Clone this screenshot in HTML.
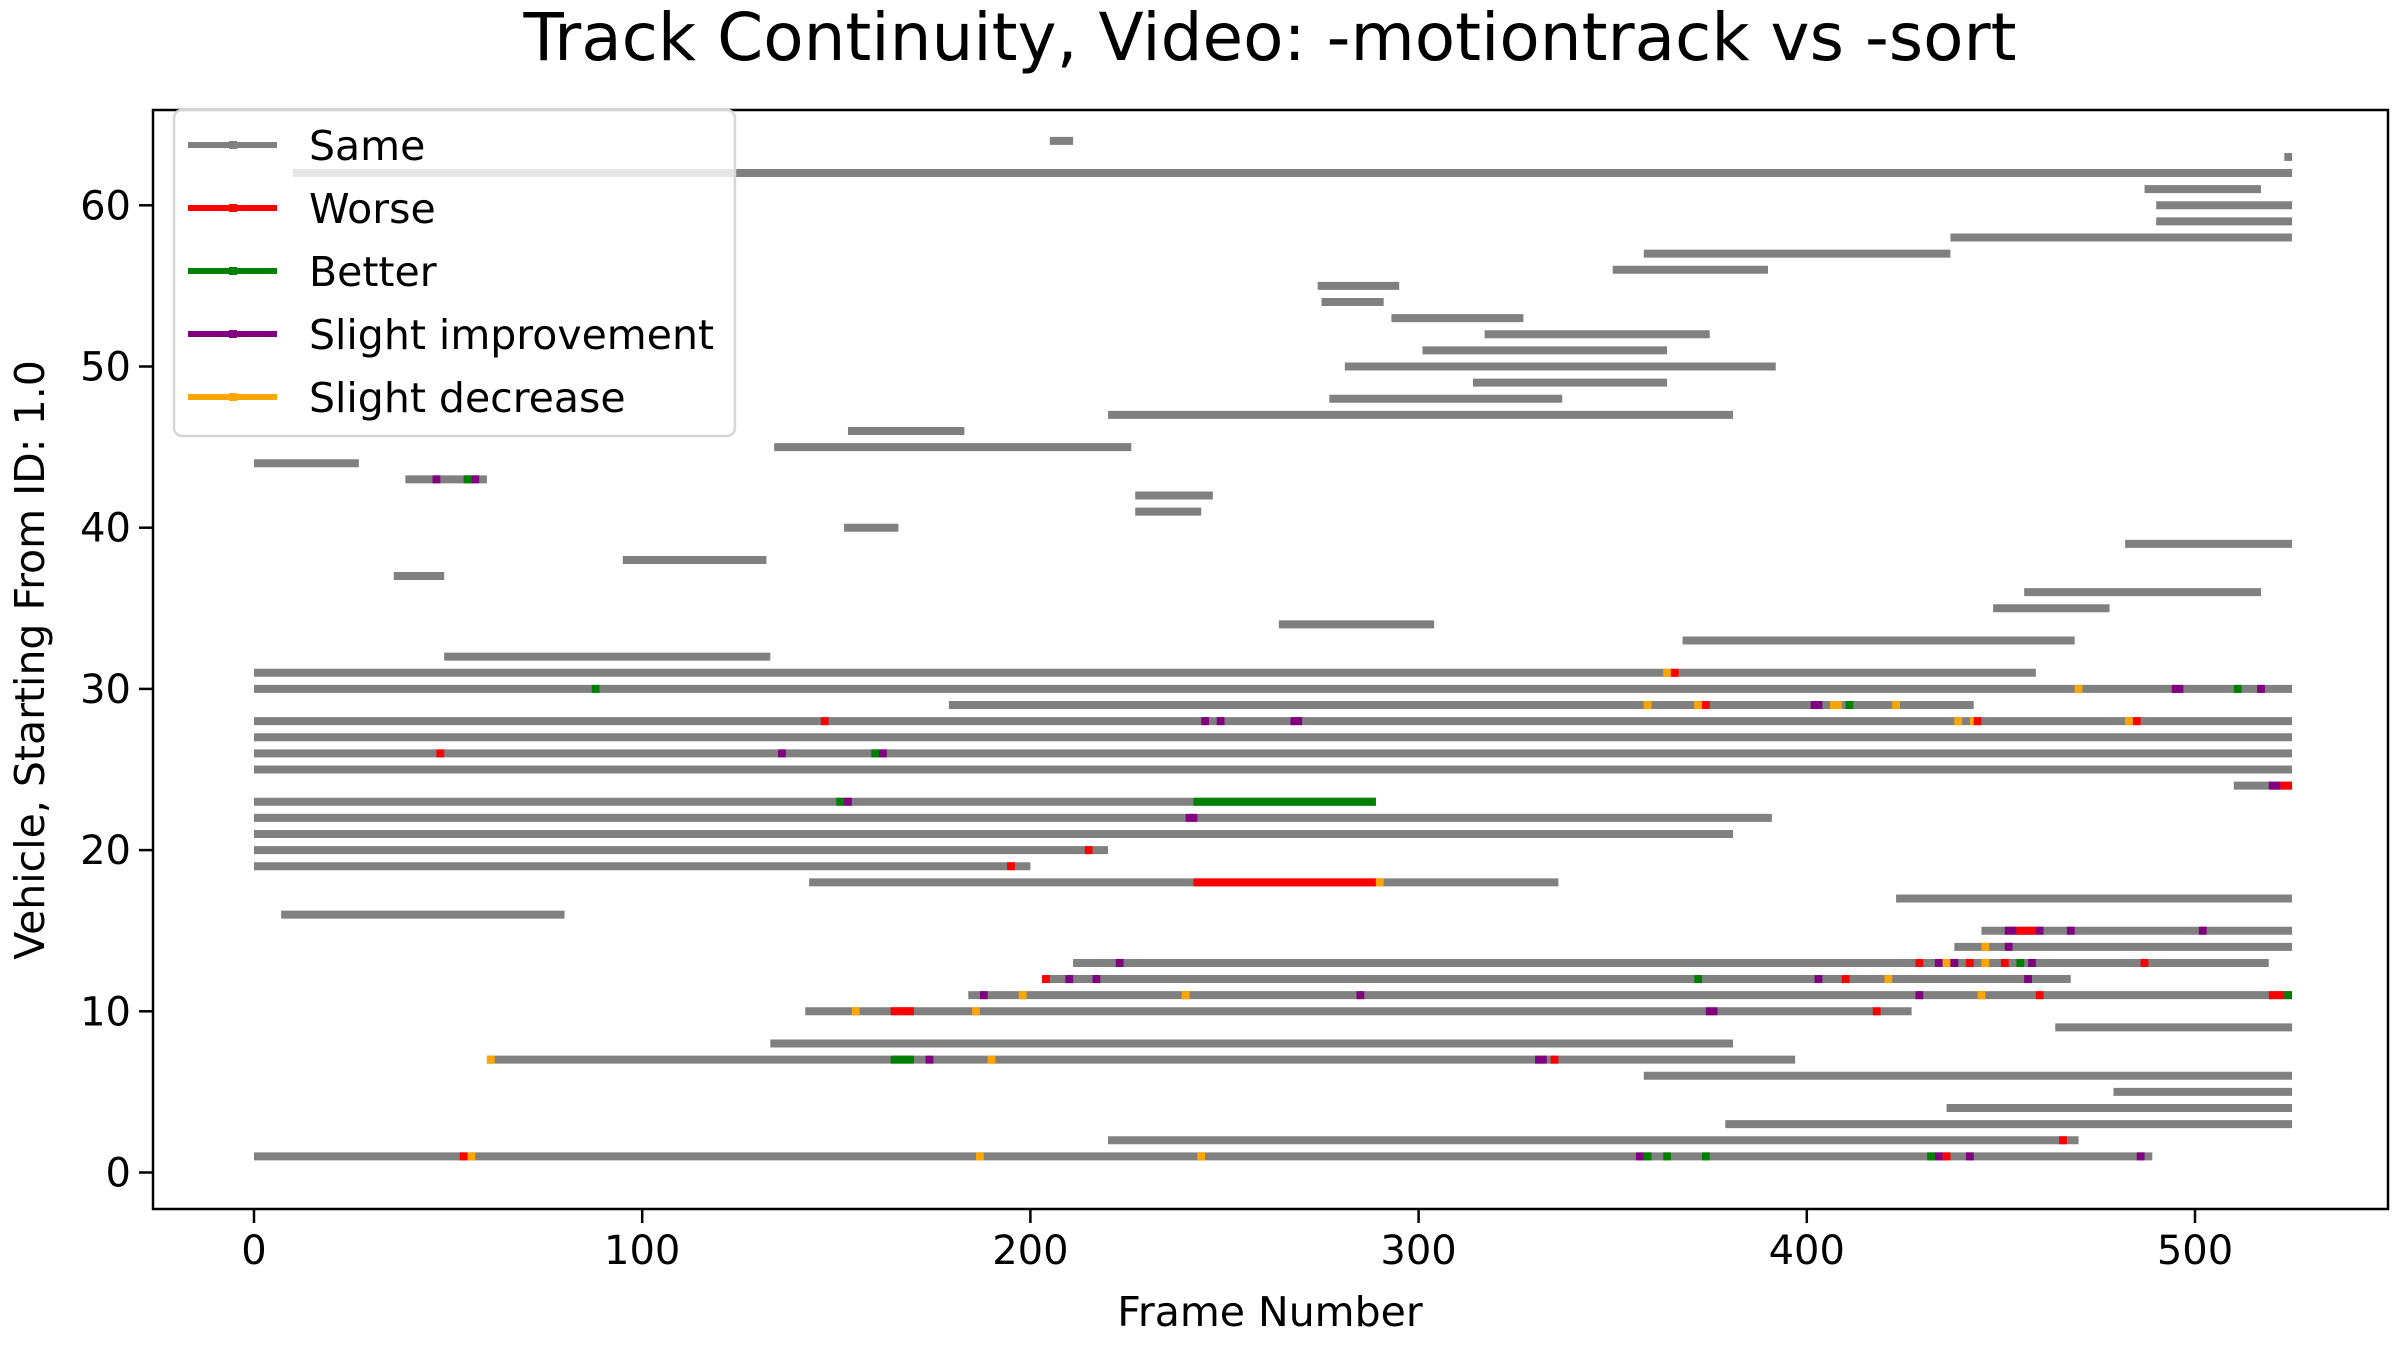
<!DOCTYPE html>
<html><head><meta charset="utf-8"><style>
html,body{margin:0;padding:0;background:#fff;}
svg{display:block;font-family:"DejaVu Sans","Liberation Sans",sans-serif;}
</style></head><body>
<svg id="chart" width="2400" height="1350" viewBox="0 0 2400 1350" xmlns="http://www.w3.org/2000/svg">
<rect width="2400" height="1350" fill="#fff"/>
<g id="plot"></g>
<g id="axes"></g>
<g id="legend"></g>
</svg>
<script>
// Tracks: vehicle y, start frame, end frame
const trackY =     [63, 64, 62, 61, 60, 59, 58, 57, 56, 55, 54, 53, 52, 51, 50, 49, 48, 47, 46, 45, 44, 43, 42, 41, 40, 39, 38, 37, 36, 35, 34, 33, 32, 31, 30, 29, 28, 27, 26, 25, 24, 23, 22, 21, 20, 19, 18, 17, 16, 15, 14, 13, 12, 11, 10, 9, 8, 7, 6, 5, 4, 3, 2, 1];
const trackStart = [523,205, 10, 487,490,490,437,358,350,274,275,293,317,301,281,314,277,220,153,134, 0, 39, 227,227,152,482, 95, 36,456,448,264,368, 49, 0, 0, 179, 0, 0, 0, 0, 510, 0, 0, 0, 0, 0, 143,423, 7, 445,438,211,204,184,142,464,133, 60,358,479,436,379,220, 0];
const trackEnd =   [525,211,525,517,525,525,525,437,390,295,291,327,375,364,392,364,337,381,183,226, 27, 60, 247,244,166,525,132, 49,517,478,304,469,133,459,525,443,525,525,525,525,525,289,391,381,220,200,336,525, 80,525,525,519,468,525,427,525,381,397,525,525,525,525,470,489];
// Events: vehicle y, start frame, end frame, type
const evY =     [43,43,43, 31,31, 30,30,30,30,30, 29,29,29,29,29,29,29, 28,28,28,28,28,28,28,28,28, 26,26,26,26, 24,24, 23,23,23, 22, 20, 19, 18,18, 15,15,15,15,15, 14,14, 13,13,13,13,13,13,13,13,13,13,13, 12,12,12,12,12,12,12,12, 11,11,11,11,11,11,11,11,11, 10,10,10,10,10, 7,7,7,7,7,7, 2, 1,1,1,1,1,1,1,1,1,1,1,1,1];
const evStart = [46,54,56, 363,365, 87,469,494,510,516, 358,371,373,401,406,410,422, 146,244,248,267,438,442,443,482,484, 47,135,159,161, 519,522, 150,152,242, 240, 214, 194, 242,289, 451,454,459,467,501, 445,451, 222,428,433,435,437,441,445,450,454,457,486, 203,209,216,371,402,409,420,456, 187,197,239,284,428,444,459,519,523, 154,164,185,374,417, 60,164,173,189,330,334, 465, 53,55,186,243,356,358,363,373,431,433,435,441,485];
const evEnd =   [48,56,58, 365,367, 89,471,497,512,518, 360,373,375,404,409,412,424, 148,246,250,270,440,444,445,484,486, 49,137,161,163, 522,525, 152,154,289, 243, 216, 196, 289,291, 454,459,461,469,503, 447,453, 224,430,435,437,439,443,447,452,456,459,488, 205,211,218,373,404,411,422,458, 189,199,241,286,430,446,461,523,525, 156,170,187,377,419, 62,170,175,191,333,336, 467, 55,57,188,245,358,360,365,375,433,435,437,443,487];
const evType =  ["P","G","P", "O","R", "G","O","P","G","P", "O","O","R","P","O","G","O", "R","P","P","P","O","O","R","O","R", "R","P","G","P", "P","R", "G","P","G", "P", "R", "R", "R","O", "P","R","P","P","P", "O","P", "P","R","P","O","P","R","O","R","G","P","R", "R","P","P","G","P","R","O","P", "P","O","O","P","P","O","R","R","G", "O","R","O","P","R", "O","G","P","O","P","R", "R", "R","O","O","O","P","G","G","G","G","P","R","P","P"];
const xTicks = [0,100,200,300,400,500];
const yTicks = [0,10,20,30,40,50,60];
const legendLabels = ["Same","Worse","Better","Slight improvement","Slight decrease"];
const legendColors = ["#808080","#ff0000","#008000","#800080","#ffa500"];
const typeColor = {R:"#ff0000",G:"#008000",P:"#800080",O:"#ffa500"};

const AX={l:153,r:2388,t:110,b:1209};
const xS=f=>254+f*3.882;
const yS=v=>1172.5-v*16.12;
const NS="http://www.w3.org/2000/svg";
function mk(tag,attrs,parent){const e=document.createElementNS(NS,tag);for(const k in attrs)e.setAttribute(k,attrs[k]);parent.appendChild(e);return e;}
const plot=document.getElementById('plot'),axes=document.getElementById('axes'),leg=document.getElementById('legend');

for(let i=0;i<trackY.length;i++){
  const l=mk('line',{x1:xS(trackStart[i]),x2:xS(trackEnd[i]),y1:yS(trackY[i]),y2:yS(trackY[i]),stroke:"#808080","stroke-width":8},plot);
  
  
}
for(let i=0;i<evY.length;i++){
  const l=mk('line',{x1:xS(evStart[i]),x2:xS(evEnd[i]),y1:yS(evY[i]),y2:yS(evY[i]),stroke:typeColor[evType[i]],"stroke-width":8},plot);
  
  
}
const fr=mk('rect',{x:AX.l,y:AX.t,width:AX.r-AX.l,height:AX.b-AX.t,fill:"none",stroke:"#000","stroke-width":2.5},axes);


xTicks.forEach(t=>{
  const x=xS(t);
  mk('line',{x1:x,x2:x,y1:AX.b,y2:AX.b+14,stroke:"#000","stroke-width":2.5},axes);
  const tx=mk('text',{x:x,y:AX.b+55,"text-anchor":"middle","font-size":40},axes);
  tx.textContent=t;
  
  
});
yTicks.forEach(t=>{
  const y=yS(t);
  mk('line',{x1:AX.l-14,x2:AX.l,y1:y,y2:y,stroke:"#000","stroke-width":2.5},axes);
  const tx=mk('text',{x:AX.l-22,y:y+14,"text-anchor":"end","font-size":40},axes);
  tx.textContent=t;
  
  
});
const title=mk('text',{x:1270,y:60,"text-anchor":"middle","font-size":66},axes);
title.textContent="Track Continuity, Video: -motiontrack vs -sort";


const xl=mk('text',{x:1270,y:1326,"text-anchor":"middle","font-size":41},axes);
xl.textContent="Frame Number";


const yl=mk('text',{x:0,y:0,"text-anchor":"middle","font-size":41,transform:"translate(44,660) rotate(-90)"},axes);
yl.textContent="Vehicle, Starting From ID: 1.0";


const lb=mk('rect',{x:174,y:110,width:561,height:326,rx:8,fill:"rgba(255,255,255,0.8)",stroke:"#d6d6d6","stroke-width":2.5},leg);


legendLabels.forEach((lab,i)=>{
  const y=145+i*63;
  const g=mk('g',{},leg);
  
  
  mk('line',{x1:188,x2:277,y1:y,y2:y,stroke:legendColors[i],"stroke-width":6},g);
  mk('rect',{x:229,y:y-4,width:8,height:8,fill:legendColors[i]},g);
  const t=mk('text',{x:309,y:y+15,"font-size":41},g);
  t.textContent=lab;
});
</script>
</body></html>
